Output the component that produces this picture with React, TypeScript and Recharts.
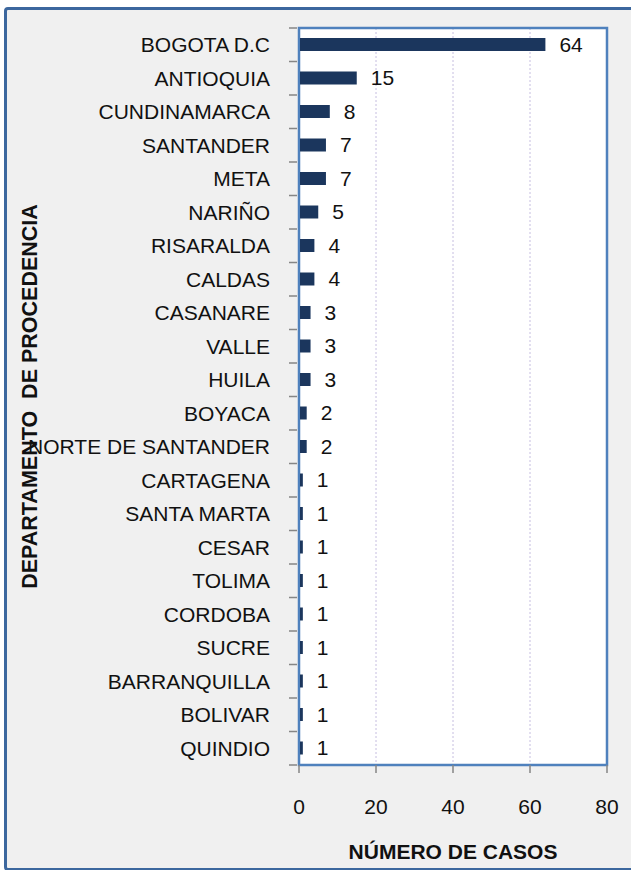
import { Bar, BarChart, CartesianGrid, LabelList, ReferenceArea, XAxis, YAxis } from 'recharts'

const departamentos = [
  'BOGOTA D.C',
  'ANTIOQUIA',
  'CUNDINAMARCA',
  'SANTANDER',
  'META',
  'NARIÑO',
  'RISARALDA',
  'CALDAS',
  'CASANARE',
  'VALLE',
  'HUILA',
  'BOYACA',
  'NORTE DE SANTANDER',
  'CARTAGENA',
  'SANTA MARTA',
  'CESAR',
  'TOLIMA',
  'CORDOBA',
  'SUCRE',
  'BARRANQUILLA',
  'BOLIVAR',
  'QUINDIO',
]
const casos = [64, 15, 8, 7, 7, 5, 4, 4, 3, 3, 3, 2, 2, 1, 1, 1, 1, 1, 1, 1, 1, 1]
const xTicks = [0, 20, 40, 60, 80]

const data = departamentos.map((d, i) => ({ departamento: d, casos: casos[i] }))

const FONT = '"Liberation Sans", Arial, sans-serif'
const BLUE = '#4F81BD'
const TICK_GREY = '#868686'

function CategoryTick(props: any) {
  const { x, y, payload, index } = props
  const band = 737 / departamentos.length
  const isLast = index === departamentos.length - 1
  return (
    <g>
      <line x1={x} x2={x + 8} y1={y - band / 2} y2={y - band / 2} stroke={TICK_GREY} strokeWidth={1.5} />
      {isLast && (
        <line x1={x} x2={x + 8} y1={y + band / 2} y2={y + band / 2} stroke={TICK_GREY} strokeWidth={1.5} />
      )}
      <text x={x - 19} y={y} dy="0.35em" textAnchor="end" fontSize={21} fontFamily={FONT} fill="#111">
        {payload.value}
      </text>
    </g>
  )
}

export default function App() {
  return (
    <div style={{ position: 'absolute', left: 0, top: 0, width: 631, height: 870, overflow: 'hidden' }}>
      <div
        style={{
          position: 'absolute',
          left: 4,
          top: 7,
          width: 650,
          height: 858,
          border: '3px solid #3C679E',
          borderRadius: 4,
          background: '#F0F0F0',
        }}
      />
      <div style={{ position: 'absolute', left: 0, top: 0 }}>
        <BarChart
          width={631}
          height={870}
          data={data}
          layout="vertical"
          margin={{ top: 28, right: 24, bottom: 45, left: 0 }}
          barCategoryGap={0}
        >
          <CartesianGrid
            horizontal={false}
            vertical
            fill="#FFFFFF"
            stroke="#C6BEE0"
            strokeDasharray="2 2"
          />
          <XAxis
            type="number"
            domain={[0, 80]}
            ticks={xTicks}
            height={60}
            interval={0}
            axisLine={{ stroke: BLUE, strokeWidth: 2 }}
            tickLine={{ stroke: TICK_GREY, strokeWidth: 1.5 }}
            tickSize={8}
            tickMargin={26}
            tick={{ fontSize: 21, fontFamily: FONT, fill: '#111' }}
            label={{
              value: 'NÚMERO DE CASOS',
              position: 'insideBottom',
              offset: -34,
              style: { fontSize: 21, fontWeight: 700, fontFamily: FONT, fill: '#111' },
            }}
          />
          <YAxis
            type="category"
            dataKey="departamento"
            width={299}
            interval={0}
            axisLine={{ stroke: BLUE, strokeWidth: 2 }}
            tickLine={false}
            tickSize={8}
            tick={<CategoryTick />}
            label={{
              value: 'DEPARTAMENTO  DE PROCEDENCIA',
              content: (p: any) => {
                const vb = p.viewBox
                const cy = vb.y + vb.height / 2
                return (
                  <text
                    x={29}
                    y={cy}
                    transform={`rotate(-90 29 ${cy})`}
                    textAnchor="middle"
                    dy="0.35em"
                    fontSize={21.5}
                    fontWeight={700}
                    fontFamily={FONT}
                    fill="#111"
                  >
                    DEPARTAMENTO{'\u00a0\u00a0'}DE PROCEDENCIA
                  </text>
                )
              },
            }}
          />
          <ReferenceArea x1={0} x2={80} fill="none" stroke={BLUE} strokeWidth={2.5} ifOverflow="visible" />
          <Bar dataKey="casos" fill="#1B365D" barSize={13} isAnimationActive={false}>
            <LabelList
              dataKey="casos"
              position="right"
              offset={14}
              style={{ fontSize: 21, fontFamily: FONT, fill: '#111' }}
            />
          </Bar>
        </BarChart>
      </div>
    </div>
  )
}
